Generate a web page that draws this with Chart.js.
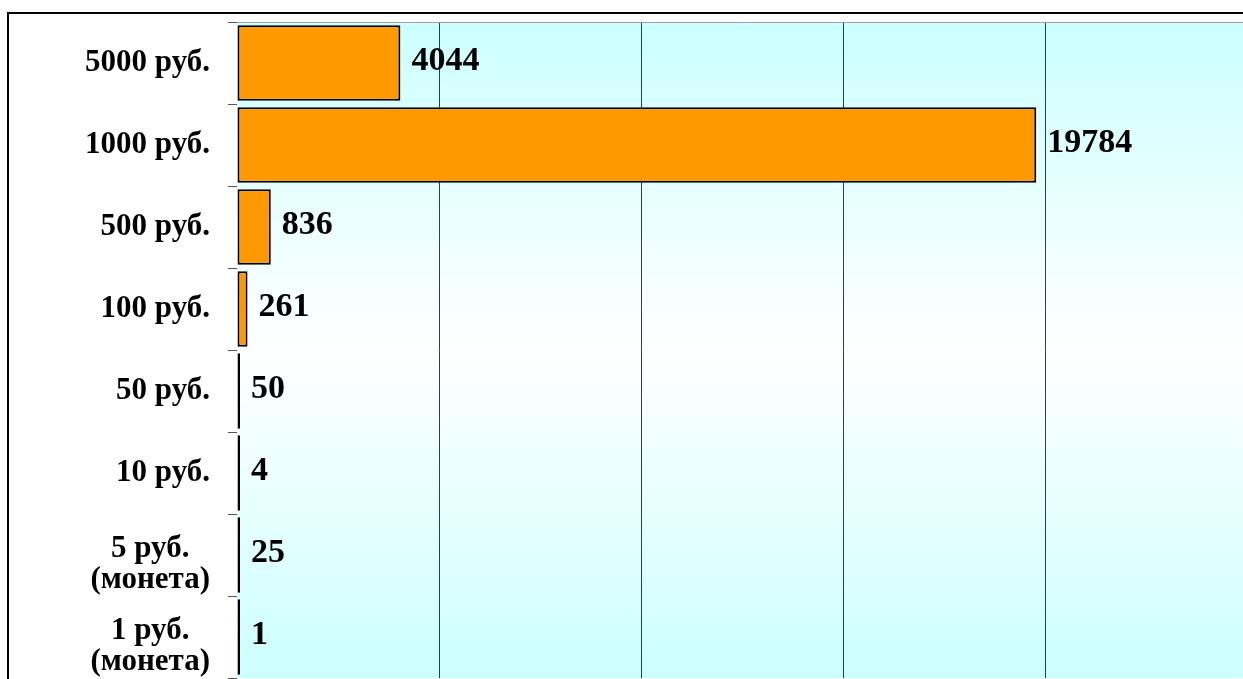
<!DOCTYPE html>
<html>
<head>
  <title>Купюры</title>
  <script src="https://cdn.jsdelivr.net/npm/chart.js"></script>
  <style>
    html, body {
      margin: 0;
      padding: 0;
      background: #fff;
      overflow: hidden;
    }
    .chart-box {
      position: absolute;
      left: 0;
      top: 0;
      width: 1260px;
      height: 700px;
    }
  </style>
</head>
<body>
  <div class="chart-box">
    <canvas id="moneyChart"></canvas>
  </div>

  <script>
    // data
    const denominations = [
      '5000 руб.',
      '1000 руб.',
      '500 руб.',
      '100 руб.',
      '50 руб.',
      '10 руб.',
      ['5 руб.', '(монета)'],
      ['1 руб.', '(монета)']
    ];
    const counts = [4044, 19784, 836, 261, 50, 4, 25, 1];
    const axisMax = 25000;
    const axisStep = 5000;

    const serif = '"Liberation Serif", "Times New Roman", serif';

    // frame + gradient behind the plot
    const backdrop = {
      id: 'backdrop',
      beforeDraw(chart) {
        const ctx = chart.ctx;
        const a = chart.chartArea;
        ctx.save();
        ctx.strokeStyle = '#000';
        ctx.lineWidth = 2;
        ctx.strokeRect(8, 13, 1400, 1000);
        const g = ctx.createLinearGradient(0, a.top, 0, a.bottom);
        g.addColorStop(0, '#ccffff');
        g.addColorStop(0.5, '#ffffff');
        g.addColorStop(1, '#ccffff');
        ctx.fillStyle = g;
        ctx.fillRect(a.left, a.top, a.right - a.left, a.bottom - a.top);
        ctx.restore();
      }
    };

    // category labels: block right-aligned, lines centred inside the block
    const categoryLabels = {
      id: 'categoryLabels',
      afterDraw(chart) {
        const ctx = chart.ctx;
        const yScale = chart.scales.y;
        const right = yScale.right - 9 - 18;
        const lineH = 31;
        ctx.save();
        ctx.font = 'bold 31px ' + serif;
        ctx.fillStyle = '#000';
        ctx.textBaseline = 'middle';
        ctx.textAlign = 'center';
        yScale.ticks.forEach((t, i) => {
          const lines = [].concat(chart.data.labels[i]);
          const w = Math.max(...lines.map(s => ctx.measureText(s).width));
          const cx = right - w / 2;
          const shift = lines.length > 1 ? 9 : 0;
          const y0 = yScale.getPixelForTick(i) - (lines.length - 1) * lineH / 2 + shift;
          lines.forEach((s, k) => ctx.fillText(s, cx, y0 + k * lineH));
        });
        ctx.restore();
      }
    };

    // value labels at the end of each bar
    const valueLabels = {
      id: 'valueLabels',
      afterDatasetsDraw(chart) {
        const ctx = chart.ctx;
        const meta = chart.getDatasetMeta(0);
        ctx.save();
        ctx.font = 'bold 34px ' + serif;
        ctx.fillStyle = '#000';
        ctx.textBaseline = 'middle';
        ctx.textAlign = 'left';
        meta.data.forEach((bar, i) => {
          ctx.fillText(String(counts[i]), bar.x + 11, bar.y - 2);
        });
        ctx.restore();
      }
    };

    const ctx = document.getElementById('moneyChart').getContext('2d');
    new Chart(ctx, {
      type: 'bar',
      data: {
        labels: denominations,
        datasets: [{
          data: counts,
          backgroundColor: '#ff9900',
          borderColor: '#000',
          borderWidth: 2,
          borderSkipped: false,
          minBarLength: 3,
          categoryPercentage: 1,
          barPercentage: 0.92
        }]
      },
      options: {
        indexAxis: 'y',
        responsive: true,
        maintainAspectRatio: false,
        animation: false,
        layout: {
          padding: { left: 0, top: 22, right: 13, bottom: 22 }
        },
        plugins: {
          legend: { display: false },
          tooltip: { enabled: false }
        },
        scales: {
          x: {
            position: 'top',
            min: 0,
            max: axisMax,
            afterFit(scale) { scale.height = 0; },
            ticks: { display: false, stepSize: axisStep },
            grid: {
              color: (c) => c.tick && c.tick.value === 0 ? 'rgba(0,0,0,0)' : '#3a3a3a',
              lineWidth: 1,
              drawTicks: false
            },
            border: { display: true, color: '#a0a0a0', width: 1 }
          },
          y: {
            afterFit(scale) {
              scale.width = 237;
              scale.paddingTop = 0;
              scale.paddingBottom = 0;
            },
            ticks: { display: false },
            grid: {
              offset: true,
              drawOnChartArea: false,
              tickLength: 9,
              color: '#555'
            },
            border: { display: false }
          }
        }
      },
      plugins: [backdrop, categoryLabels, valueLabels]
    });
  </script>
</body>
</html>
